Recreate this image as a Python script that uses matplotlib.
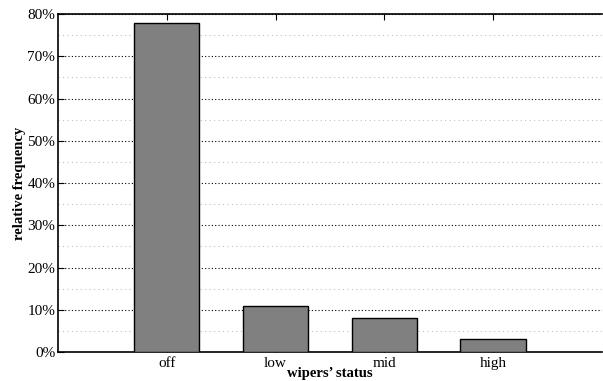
import matplotlib
matplotlib.use("Agg")
import matplotlib.pyplot as plt
import numpy as np
from matplotlib.ticker import MultipleLocator, FuncFormatter

# data
categories = ["off", "low", "mid", "high"]
frequency = [78.0, 11.0, 8.0, 3.0]  # percent

plt.rcParams['font.family'] = ['Liberation Serif', 'DejaVu Serif']
plt.rcParams['font.size'] = 11

fig = plt.figure(figsize=(6.03, 3.81), dpi=100)
ax = fig.add_axes([0.0962, 0.0760, 0.902, 0.887])

x = np.arange(1, len(categories) + 1)
ax.bar(x, frequency, width=0.6, color='#808080', edgecolor='black', linewidth=1.0, zorder=3)

ax.set_xlim(0, 5)
ax.set_ylim(0, 80)
ax.set_xticks(x)
ax.set_xticklabels(categories)
ax.yaxis.set_major_locator(MultipleLocator(10))
ax.yaxis.set_minor_locator(MultipleLocator(5))
ax.yaxis.set_major_formatter(FuncFormatter(lambda v, p: f"{v:.0f}%"))

ax.grid(which='major', axis='y', color='black', linestyle=(0, (1, 2)), linewidth=0.8, zorder=0)
ax.grid(which='minor', axis='y', color='#c0c0c0', linestyle=(0, (1, 3)), linewidth=0.8, zorder=0)

ax.tick_params(axis='both', which='major', direction='in', length=4, width=0.8, top=True, right=False)
ax.tick_params(axis='y', which='minor', length=0)
ax.tick_params(axis='x', pad=3.5)
ax.tick_params(axis='y', pad=2)

for side in ['left', 'bottom', 'top']:
    ax.spines[side].set_linewidth(1.2)
ax.spines['right'].set_visible(False)

ax.set_ylabel("relative frequency", fontweight='bold', fontsize=10.5, labelpad=1)
ax.set_xlabel("wipers\u2019 status", fontweight='bold', fontsize=10.5, labelpad=-1.8)

fig.savefig("out.png", dpi=100)
